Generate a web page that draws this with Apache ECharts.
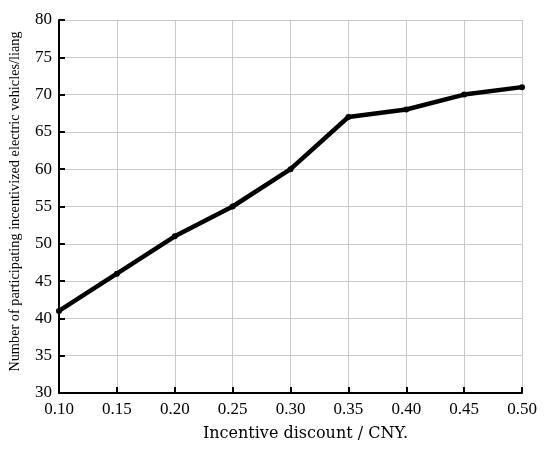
<!DOCTYPE html>
<html><head><meta charset="utf-8">
<script src="https://cdn.jsdelivr.net/npm/echarts@6/dist/echarts.min.js"></script>
<style>html,body{margin:0;padding:0;background:#fff}#c{width:550px;height:452px}</style>
</head><body><div id="c"></div>
<script>
var discounts = [0.10, 0.15, 0.20, 0.25, 0.30, 0.35, 0.40, 0.45, 0.50];
var vehicles = [41, 46, 51, 55, 60, 67, 68, 70, 71];
var xName = 'Incentive discount / CNY.';
var yName = 'Number of participating incentivized electric vehicles/liang';
var chart = echarts.init(document.getElementById('c'));
var font = 'Liberation Serif';
chart.setOption({
  animation: false,
  grid: {left: 59, right: 28, top: 20, bottom: 59},
  xAxis: {
    type: 'value', min: 0.10, max: 0.50, interval: 0.05,
    name: xName, nameLocation: 'middle', nameGap: 33,
    nameTextStyle: {fontFamily: 'DejaVu Serif', fontSize: 16, color: '#000', padding: [0, 0, 0, 30]},
    axisLine: {show: true, lineStyle: {color: '#000', width: 2}},
    axisTick: {show: true, inside: true, length: 6, lineStyle: {color: '#000', width: 2}},
    axisLabel: {fontFamily: font, fontSize: 17, color: '#000', margin: 8,
      formatter: function(v){return v.toFixed(2);}},
    splitLine: {show: true, lineStyle: {color: '#c8c8c8', width: 1}}
  },
  yAxis: {
    type: 'value', min: 30, max: 80, interval: 5,
    name: yName, nameLocation: 'middle', nameGap: 37,
    nameTextStyle: {fontFamily: font, fontSize: 14.3, color: '#000', padding: [0, 0, 0, 10]},
    axisLine: {show: true, lineStyle: {color: '#000', width: 2}},
    axisTick: {show: true, inside: true, length: 6, lineStyle: {color: '#000', width: 2}},
    axisLabel: {fontFamily: font, fontSize: 17, color: '#000', margin: 7},
    splitLine: {show: true, lineStyle: {color: '#c8c8c8', width: 1}}
  },
  series: [{
    type: 'line',
    data: discounts.map(function(d, i){return [d, vehicles[i]];}),
    symbol: 'circle', symbolSize: 6,
    itemStyle: {color: '#000'},
    lineStyle: {color: '#000', width: 4.5}
  }]
});
</script></body></html>
